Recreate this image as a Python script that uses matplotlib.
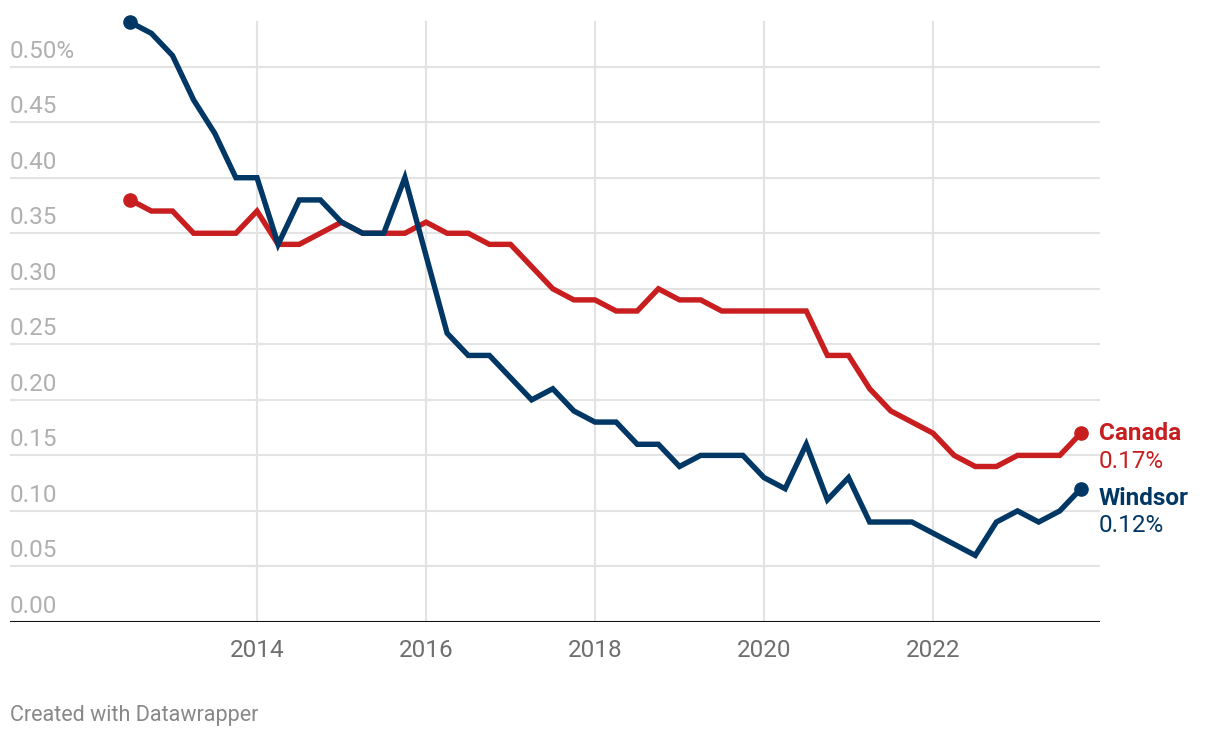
import numpy as np
import matplotlib
matplotlib.use("Agg")
import matplotlib.pyplot as plt
import matplotlib.transforms as mtransforms

plt.rcParams['font.family'] = ['Roboto', 'DejaVu Sans']

# quarterly points, Q3 2012 .. Q4 2023
start_year = 2012.5
windsor = [0.54, 0.53, 0.51, 0.47, 0.44, 0.40, 0.40, 0.34, 0.38, 0.38,
           0.36, 0.35, 0.35, 0.40, 0.33, 0.26, 0.24, 0.24, 0.22, 0.20,
           0.21, 0.19, 0.18, 0.18, 0.16, 0.16, 0.14, 0.15, 0.15, 0.15,
           0.13, 0.12, 0.16, 0.11, 0.13, 0.09, 0.09, 0.09, 0.08, 0.07,
           0.06, 0.09, 0.10, 0.09, 0.10, 0.12]
canada = [0.38, 0.37, 0.37, 0.35, 0.35, 0.35, 0.37, 0.34, 0.34, 0.35,
          0.36, 0.35, 0.35, 0.35, 0.36, 0.35, 0.35, 0.34, 0.34, 0.32,
          0.30, 0.29, 0.29, 0.28, 0.28, 0.30, 0.29, 0.29, 0.28, 0.28,
          0.28, 0.28, 0.28, 0.24, 0.24, 0.21, 0.19, 0.18, 0.17, 0.15,
          0.14, 0.14, 0.15, 0.15, 0.15, 0.17]
yticks = [0.0, 0.05, 0.10, 0.15, 0.20, 0.25, 0.30, 0.35, 0.40, 0.45, 0.50]
ytick_labels = ["0.00", "0.05", "0.10", "0.15", "0.20", "0.25", "0.30",
                "0.35", "0.40", "0.45", "0.50%"]
xticks = [2014, 2016, 2018, 2020, 2022]

red = '#c91e1f'
navy = '#003764'

x = start_year + 0.25 * np.arange(len(windsor))

W, H = 1220, 738
fig = plt.figure(figsize=(W / 100, H / 100), dpi=100)
ax = fig.add_axes([10 / W, (H - 622) / H, 1090 / W, 622 / H])
ax.set_xlim(2011.077, 2023.976)
ax.set_ylim(0, 0.56)

for s in ax.spines.values():
    s.set_visible(False)

# grid
for v in yticks[1:]:
    ax.axhline(v, color='#e3e3e3', lw=1.5, zorder=0)
for xt in xticks:
    ax.axvline(xt, ymin=0, ymax=0.54 / 0.56, color='#e3e3e3', lw=1.5, zorder=0)
ax.axhline(0, color='#111111', lw=2.2, zorder=3)

# y labels above gridlines, left aligned
trans = mtransforms.blended_transform_factory(ax.transAxes, ax.transData)
off = mtransforms.offset_copy(trans, fig=fig, x=0, y=9, units='dots')
for v, lab in zip(yticks, ytick_labels):
    ax.text(0.0, v, lab, transform=off, ha='left', va='baseline',
            fontsize=17.5, color='#b0b0b0')

ax.set_yticks([])
ax.set_xticks(xticks)
ax.set_xticklabels([str(t) for t in xticks])
ax.tick_params(axis='x', length=0, pad=12, labelsize=17.5, labelcolor='#6e6e6e')

ax.plot(x, canada, color=red, lw=3.9, zorder=4, solid_joinstyle='miter')
ax.plot(x, windsor, color=navy, lw=3.9, zorder=5, solid_joinstyle='miter')
for series, c in [(canada, red), (windsor, navy)]:
    ax.plot([x[0], x[-1]], [series[0], series[-1]], 'o', color=c, ms=9.5, zorder=6)

# end labels
ax.annotate("Canada", (x[-1], canada[-1]), xytext=(18, 0), textcoords='offset pixels',
            ha='left', va='center', fontsize=17.5, fontweight='bold', color=red,
            annotation_clip=False)
ax.annotate("0.17%", (x[-1], canada[-1]), xytext=(18, -28), textcoords='offset pixels',
            ha='left', va='center', fontsize=17.5, color=red, annotation_clip=False)
ax.annotate("Windsor", (x[-1], windsor[-1]), xytext=(18, -10), textcoords='offset pixels',
            ha='left', va='center', fontsize=17.5, fontweight='bold', color=navy,
            annotation_clip=False)
ax.annotate("0.12%", (x[-1], windsor[-1]), xytext=(18, -37), textcoords='offset pixels',
            ha='left', va='center', fontsize=17.5, color=navy, annotation_clip=False)

fig.text(10 / W, 1 - 715 / H, "Created with Datawrapper", ha='left', va='center',
         fontsize=15.5, color='#888888')

fig.savefig("out.png", dpi=100)
